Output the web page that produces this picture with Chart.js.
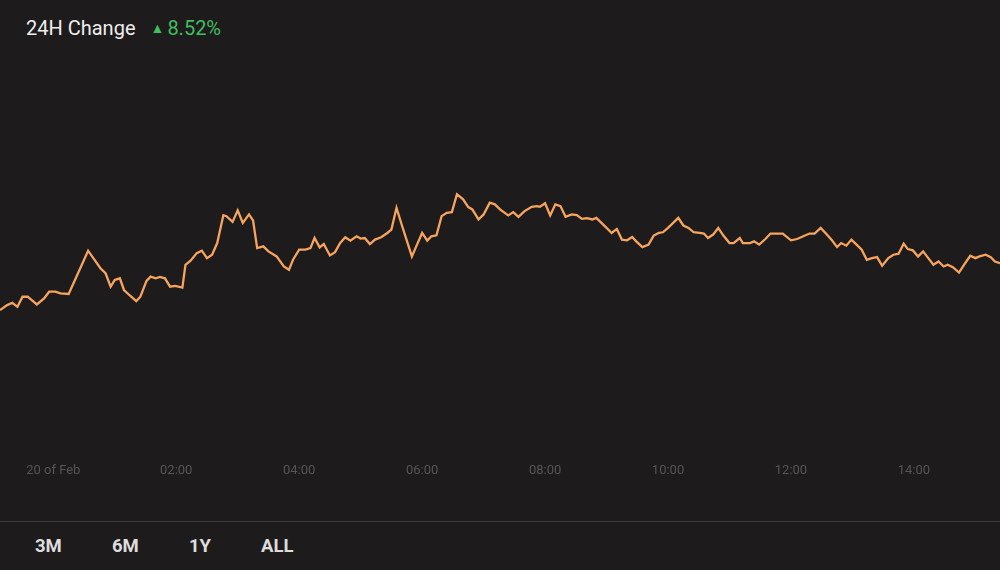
<!DOCTYPE html>
<html>
<head>
<meta charset="utf-8">
<script src="https://cdn.jsdelivr.net/npm/chart.js@4.4.1/dist/chart.umd.min.js"></script>
<style>
    html, body { margin: 0; padding: 0; }
    body {
        width: 1000px;
        height: 570px;
        background: #1d1b1c;
        font-family: Roboto, 'Noto Sans', sans-serif;
        position: relative;
        overflow: hidden;
    }
    .header {
        position: absolute;
        left: 26px;
        top: 16px;
        font-size: 20px;
        color: #eeeeee;
        white-space: nowrap;
    }
    .header .change { color: #3fbf5e; margin-left: 15px; }
    .header .arrow { font-size: 14px; position: relative; top: -2px; margin-right: 3px; }
    .chart-box {
        position: absolute;
        left: 0;
        top: 60px;
        width: 1000px;
        height: 427px;
    }
    .divider {
        position: absolute;
        left: 0;
        top: 521px;
        width: 1000px;
        height: 1px;
        background: #3d3b3c;
    }
    .ranges {
        position: absolute;
        top: 535px;
        left: 0;
        font-size: 18.5px;
        font-weight: bold;
        color: #dddddd;
    }
    .ranges span { position: absolute; white-space: nowrap; }
</style>
</head>
<body>
<div class="header">24H Change<span class="change"><span class="arrow">▲</span>8.52%</span></div>
<div class="chart-box"><canvas id="price-chart"></canvas></div>
<div class="divider"></div>
<div class="ranges">
    <span style="left:35px">3M</span>
    <span style="left:112px">6M</span>
    <span style="left:189px">1Y</span>
    <span style="left:261px">ALL</span>
</div>
<script>
    // minutes from midnight, 20 Feb
    const times = [
        -52, -45, -40, -35, -30, -25, -16, -9, -4, 2, 7, 15, 34, 46, 51, 56, 60, 65, 69, 75,
        81, 85, 91, 95, 100, 104, 109, 114, 119, 126, 129, 134, 140, 145, 150, 155, 160, 166, 169, 175,
        180, 185, 191, 195, 199, 205, 210, 218, 225, 230, 234, 240, 246, 251, 255, 260, 264, 270, 275, 280,
        285, 290, 296, 300, 304, 309, 314, 320, 326, 330, 335, 340, 350, 355, 360, 365, 369, 374, 379, 384,
        389, 394, 400, 405, 409, 415, 420, 426, 431, 436, 444, 449, 454, 460, 467, 472, 475, 480, 485, 490,
        495, 500, 506, 511, 516, 521, 526, 530, 535, 540, 545, 550, 555, 560, 565, 569, 575, 581, 586, 591,
        595, 600, 605, 610, 615, 620, 625, 631, 635, 639, 644, 649, 654, 660, 664, 670, 673, 680, 684, 689,
        695, 700, 706, 712, 720, 726, 732, 738, 743, 749, 755, 760, 765, 769, 774, 779, 784, 789, 794, 799,
        804, 809, 815, 820, 825, 830, 834, 839, 844, 849, 854, 859, 864, 869, 873, 878, 884, 890, 895, 900,
        904, 910, 915, 919, 924
    ]

    const prices = [
        0.5467, 0.5517, 0.5540, 0.5500, 0.5600, 0.5600, 0.5523, 0.5583, 0.5650, 0.5650, 0.5633, 0.5627, 0.6057, 0.5883, 0.5833, 0.5700, 0.5767, 0.5783, 0.5667, 0.5610,
        0.5557, 0.5600, 0.5757, 0.5800, 0.5783, 0.5797, 0.5783, 0.5700, 0.5707, 0.5690, 0.5917, 0.5957, 0.6033, 0.6057, 0.5983, 0.6017, 0.6133, 0.6410, 0.6400, 0.6343,
        0.6457, 0.6333, 0.6417, 0.6357, 0.6083, 0.6100, 0.6050, 0.6000, 0.5900, 0.5867, 0.5967, 0.6067, 0.6067, 0.6083, 0.6183, 0.6090, 0.6123, 0.6010, 0.6043, 0.6133,
        0.6190, 0.6157, 0.6200, 0.6177, 0.6183, 0.6123, 0.6167, 0.6190, 0.6233, 0.6267, 0.6483, 0.6317, 0.6000, 0.6117, 0.6233, 0.6157, 0.6200, 0.6210, 0.6400, 0.6433,
        0.6440, 0.6617, 0.6567, 0.6490, 0.6467, 0.6367, 0.6417, 0.6533, 0.6517, 0.6467, 0.6407, 0.6440, 0.6393, 0.6450, 0.6493, 0.6500, 0.6493, 0.6527, 0.6407, 0.6517,
        0.6500, 0.6393, 0.6417, 0.6410, 0.6373, 0.6380, 0.6367, 0.6383, 0.6333, 0.6283, 0.6233, 0.6273, 0.6167, 0.6160, 0.6193, 0.6150, 0.6093, 0.6117, 0.6207, 0.6233,
        0.6240, 0.6283, 0.6333, 0.6383, 0.6307, 0.6283, 0.6240, 0.6233, 0.6227, 0.6183, 0.6217, 0.6283, 0.6207, 0.6133, 0.6133, 0.6183, 0.6133, 0.6133, 0.6150, 0.6117,
        0.6173, 0.6227, 0.6227, 0.6227, 0.6160, 0.6173, 0.6200, 0.6227, 0.6227, 0.6283, 0.6217, 0.6160, 0.6093, 0.6133, 0.6107, 0.6167, 0.6117, 0.6067, 0.5967, 0.5983,
        0.5993, 0.5907, 0.5983, 0.6017, 0.6027, 0.6127, 0.6073, 0.6060, 0.6000, 0.6050, 0.5983, 0.5917, 0.5950, 0.5900, 0.5917, 0.5893, 0.5840, 0.5933, 0.6007, 0.5983,
        0.6000, 0.6017, 0.5993, 0.5950, 0.5933
    ]

    const tickMinutes = [0, 120, 240, 360, 480, 600, 720, 840]
    const tickLabels = ['20 of Feb', '02:00', '04:00', '06:00', '08:00', '10:00', '12:00', '14:00']

    const points = times.map((t, i) => ({ x: t, y: prices[i] }))

    const priceChart = new Chart(document.getElementById('price-chart'), {
        type: 'line',
        data: {
            datasets: [{
                data: points,
                borderColor: '#f7a45e',
                borderWidth: 2.3,
                pointRadius: 0,
                tension: 0,
                fill: false
            }]
        },
        options: {
            responsive: true,
            maintainAspectRatio: false,
            animation: false,
            layout: { padding: 0 },
            plugins: {
                legend: { display: false },
                tooltip: { enabled: false }
            },
            scales: {
                x: {
                    type: 'linear',
                    min: -52,
                    max: 924,
                    grid: { display: false, drawTicks: false },
                    border: { display: false },
                    afterBuildTicks: function(scale) {
                        scale.ticks = tickMinutes.map(v => ({ value: v }))
                    },
                    ticks: {
                        autoSkip: false,
                        maxRotation: 0,
                        padding: 8,
                        color: '#575556',
                        font: { family: 'Roboto', size: 13 },
                        callback: function(value) {
                            const i = tickMinutes.indexOf(value)
                            return i >= 0 ? tickLabels[i] : ''
                        }
                    }
                },
                y: {
                    display: false,
                    min: 0.4025,
                    max: 0.795
                }
            }
        }
    })
</script>
</body>
</html>
